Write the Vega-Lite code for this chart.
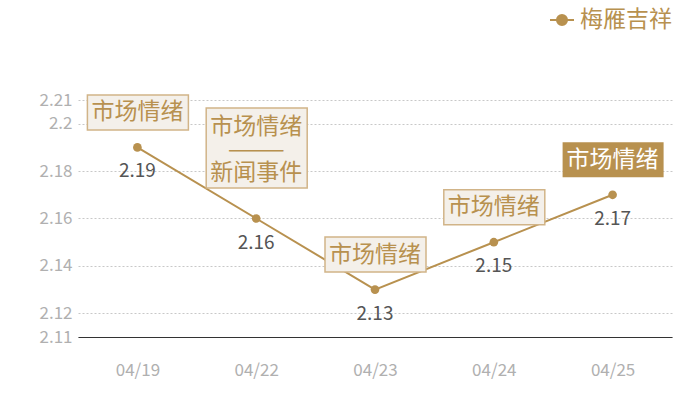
{
  "$schema": "https://vega.github.io/schema/vega-lite/v6.json",
  "autosize": {"type": "none"},
  "padding": {"left": 78, "top": 100, "right": 28, "bottom": 63},
  "width": 594,
  "height": 237,
  "background": "white",
  "data": {
    "values": [
      {"date": "04/19", "value": 2.19, "series": "梅雁吉祥", "note": "市场情绪"},
      {"date": "04/22", "value": 2.16, "series": "梅雁吉祥", "note": "市场情绪\n———\n新闻事件"},
      {"date": "04/23", "value": 2.13, "series": "梅雁吉祥", "note": "市场情绪"},
      {"date": "04/24", "value": 2.15, "series": "梅雁吉祥", "note": "市场情绪"},
      {"date": "04/25", "value": 2.17, "series": "梅雁吉祥", "note": "市场情绪"}
    ]
  },
  "encoding": {
    "x": {
      "field": "date",
      "type": "ordinal",
      "scale": {"type": "point", "padding": 0.5},
      "axis": {
        "title": null,
        "labelAngle": 0,
        "ticks": false,
        "grid": false,
        "domainColor": "#333333",
        "domainWidth": 1,
        "labelColor": "#b0b0b0",
        "labelFontSize": 17,
        "labelPadding": 25
      }
    },
    "y": {
      "field": "value",
      "type": "quantitative",
      "scale": {"domain": [2.11, 2.21], "zero": false, "nice": false},
      "axis": {
        "title": null,
        "values": [2.11, 2.12, 2.14, 2.16, 2.18, 2.2, 2.21],
        "format": "~g",
        "domain": false,
        "ticks": false,
        "labelColor": "#b0b0b0",
        "labelFontSize": 17,
        "labelPadding": 6,
        "gridColor": "#c8c8c8",
        "gridDash": [2, 2],
        "gridWidth": 1
      }
    }
  },
  "layer": [
    {
      "mark": {"type": "line", "strokeWidth": 2},
      "encoding": {
        "color": {
          "field": "series",
          "type": "nominal",
          "scale": {"range": ["#b8914f"]},
          "legend": {
            "title": null,
            "orient": "none",
            "legendX": 471,
            "legendY": -93,
            "symbolType": "M-1,0L1,0M-0.42,0A0.42,0.42,0,1,1,0.42,0A0.42,0.42,0,1,1,-0.42,0Z",
            "symbolSize": 576,
            "symbolStrokeWidth": 2,
            "symbolFillColor": "#b8914f",
            "symbolStrokeColor": "#b8914f",
            "labelColor": "#b8914f",
            "labelFontSize": 23,
            "labelOffset": 5
          }
        }
      }
    },
    {
      "mark": {"type": "point", "filled": true, "opacity": 1, "size": 75, "color": "#b8914f"},
      "encoding": {}
    },
    {
      "mark": {"type": "text", "dy": 24, "fontSize": 19, "color": "#555555", "baseline": "middle"},
      "encoding": {"text": {"field": "value", "type": "quantitative", "format": ".2f"}}
    },
    {
      "transform": [{"filter": "datum.date != '04/22' && datum.date != '04/25'"}],
      "mark": {
        "type": "rect",
        "fill": "#f4f0ea",
        "stroke": "#d1b488",
        "strokeWidth": 1.5,
        "xOffset": -50,
        "x2Offset": 51,
        "yOffset": -52.5,
        "y2Offset": -17.5
      },
      "encoding": {
        "x2": {"field": "date"},
        "y2": {"field": "value"}
      }
    },
    {
      "transform": [{"filter": "datum.date == '04/22'"}],
      "mark": {
        "type": "rect",
        "fill": "#f4f0ea",
        "stroke": "#d1b488",
        "strokeWidth": 1.5,
        "xOffset": -50,
        "x2Offset": 51,
        "yOffset": -110.5,
        "y2Offset": -30.5
      },
      "encoding": {
        "x2": {"field": "date"},
        "y2": {"field": "value"}
      }
    },
    {
      "transform": [{"filter": "datum.date == '04/25'"}],
      "mark": {
        "type": "rect",
        "fill": "#b8914f",
        "xOffset": -50,
        "x2Offset": 51,
        "yOffset": -52.5,
        "y2Offset": -17.5
      },
      "encoding": {
        "x2": {"field": "date"},
        "y2": {"field": "value"}
      }
    },
    {
      "transform": [{"filter": "datum.date != '04/22'"}],
      "mark": {"type": "text", "dy": -35, "fontSize": 23, "baseline": "middle"},
      "encoding": {
        "text": {"field": "note"},
        "color": {
          "condition": {"test": "datum.date == '04/25'", "value": "#ffffff"},
          "value": "#b8914f"
        }
      }
    },
    {
      "transform": [{"filter": "datum.date == '04/22'"}],
      "mark": {"type": "text", "dy": -92, "fontSize": 23, "baseline": "middle", "lineBreak": "\n", "lineHeight": 23, "color": "#b8914f"},
      "encoding": {"text": {"field": "note"}}
    }
  ],
  "config": {
    "font": "Noto Sans CJK SC",
    "view": {"stroke": null}
  }
}
